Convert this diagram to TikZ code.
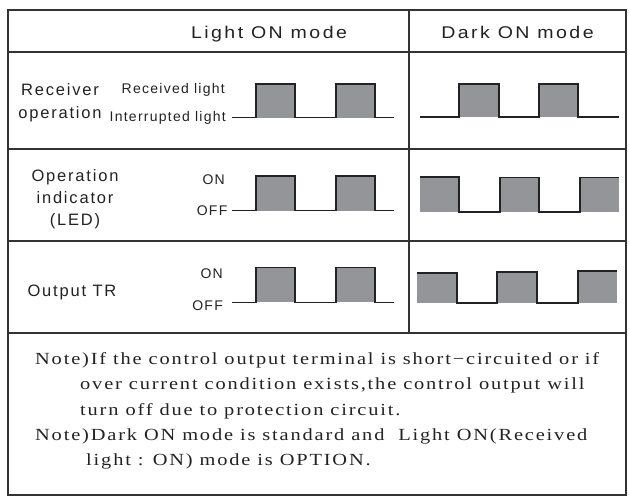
\documentclass[tikz,border=0pt]{standalone}
\usepackage{fontspec}
\usepackage{graphicx}
\setmainfont{Liberation Serif}
\setsansfont{Liberation Sans}
\newfontfamily\notefont[LetterSpace=9]{Liberation Serif}
\newfontfamily\headfont[LetterSpace=12.5]{Liberation Sans}
\newfontfamily\rowfont[LetterSpace=11]{Liberation Sans}
\newfontfamily\lblfont[LetterSpace=9]{Liberation Sans}
\definecolor{ink}{HTML}{222222}
\definecolor{rule}{HTML}{333333}
\definecolor{wavegray}{HTML}{939598}
\tikzset{
  frame/.style={draw=rule, line width=2pt},
  gridline/.style={draw=rule, line width=1.3pt},
  wave/.style={draw=ink, line width=1.3pt, line join=miter},
  pulse/.style={fill=wavegray},
  headtxt/.style={anchor=base, inner sep=0pt, text=ink, font=\headfont\fontsize{17}{20}\selectfont},
  rowtxt/.style={anchor=base, inner sep=0pt, text=ink, align=center},
  lbltxt/.style={anchor=base east, inner sep=0pt, text=ink, font=\lblfont\fontsize{14}{16}\selectfont},
  notetxt/.style={anchor=base west, inner sep=0pt, text=ink, font=\notefont\fontsize{17}{20}\selectfont},
}
\newcommand\wide[1]{\scalebox{1.2}[1]{#1}}
\newcommand\hwide[1]{\scalebox{1.15}[1]{#1}}
\begin{document}
\begin{tikzpicture}[x=1pt,y=-1pt]
\useasboundingbox (0,0) rectangle (629,498);
% grid
\draw[gridline] (8,52) -- (626,52);
\draw[gridline] (8,149) -- (626,149);
\draw[gridline] (8,241) -- (626,241);
\draw[gridline] (8,333) -- (626,333);
\draw[gridline] (409,9.5) -- (409,333);
\draw[frame] (8,9.5) rectangle (626,495);
% headers
\node[headtxt] (hlight) at (269,38) {\hwide{Light ON mode}};
\node[headtxt] (hdark) at (517.5,38) {\hwide{Dark ON mode}};
% row labels (anchor base = baseline of the last line)
\node[rowtxt, font=\rowfont\fontsize{16.5}{22.5}\selectfont] (rrecv) at (60,118) {Receiver\\operation};
\node[rowtxt, font=\rowfont\fontsize{16.5}{22}\selectfont] (rled) at (75,225.5) {Operation\\indicator\\(LED)};
\node[rowtxt, font=\rowfont\fontsize{16.5}{22.5}\selectfont] (rtr) at (72,296.5) {Output TR};
% level labels
\node[lbltxt] (lrecv) at (225,93.5) {Received light};
\node[lbltxt] (lint) at (226,121) {Interrupted light};
\node[lbltxt] (lon2) at (225,184) {ON};
\node[lbltxt] (loff2) at (227.5,215.5) {OFF};
\node[lbltxt] (lon3) at (223,278.3) {ON};
\node[lbltxt] (loff3) at (223,310) {OFF};
% row 1 light ON
\fill[pulse] (256,84) rectangle (295,117.7);
\fill[pulse] (336,84) rectangle (375,117.7);
\draw[wave] (232,117.7) -- (256,117.7) -- (256,84) -- (295,84) -- (295,117.7) -- (336,117.7) -- (336,84) -- (375,84) -- (375,117.7) -- (394,117.7);
% row 1 dark ON
\fill[pulse] (459,84) rectangle (499,117);
\fill[pulse] (539,84) rectangle (578,117);
\draw[wave] (420,117) -- (459,117) -- (459,84) -- (499,84) -- (499,117) -- (539,117) -- (539,84) -- (578,84) -- (578,117) -- (619,117);
% row 2 light ON
\fill[pulse] (256,176) rectangle (295,210.7);
\fill[pulse] (336,176) rectangle (375,210.7);
\draw[wave] (232,210.7) -- (256,210.7) -- (256,176) -- (295,176) -- (295,210.7) -- (336,210.7) -- (336,176) -- (375,176) -- (375,210.7) -- (394,210.7);
% row 2 dark ON
\fill[pulse] (420,177) rectangle (459,212);
\fill[pulse] (500,177.5) rectangle (539,212);
\fill[pulse] (580,177.5) rectangle (619,212);
\draw[wave] (420,177) -- (459,177) -- (459,212) -- (500,212) -- (500,177.5) -- (539,177.5) -- (539,212) -- (580,212) -- (580,177.5) -- (619,177.5);
% row 3 light ON
\fill[pulse] (256,267.7) rectangle (295,302.3);
\fill[pulse] (336,267.7) rectangle (375,302.3);
\draw[wave] (232,302.3) -- (256,302.3) -- (256,267.7) -- (295,267.7) -- (295,302.3) -- (336,302.3) -- (336,267.7) -- (375,267.7) -- (375,302.3) -- (394,302.3);
% row 3 dark ON
\fill[pulse] (417,273) rectangle (457,303);
\fill[pulse] (497,272) rectangle (537,303);
\fill[pulse] (578,271) rectangle (617,303);
\draw[wave] (417,273) -- (457,273) -- (457,303) -- (497,303) -- (497,272) -- (537,272) -- (537,303) -- (578,303) -- (578,271) -- (617,271);
% notes
\node[notetxt] (n1a) at (35,364.5) {\wide{Note)If the control output terminal is short−circuited or if}};
\node[notetxt] (n1b) at (80,389.8) {\wide{over current condition exists,the control output will}};
\node[notetxt] (n1c) at (80,415.1) {\wide{turn off due to protection circuit.}};
\node[notetxt] (n2a) at (35,440.4) {\wide{Note)Dark ON mode is standard and\ \ Light ON(Received}};
\node[notetxt] (n2b) at (86,465.7) {\wide{light : ON) mode is OPTION.}};
\end{tikzpicture}
\end{document}
